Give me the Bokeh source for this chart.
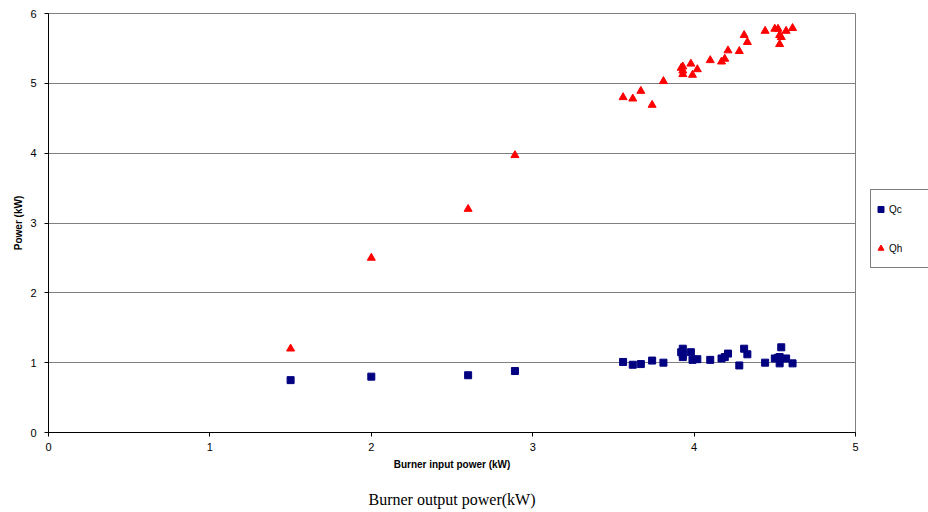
from bokeh.plotting import figure
from bokeh.layouts import row
from bokeh.models import Range1d, Legend, LegendItem, LinearAxis, FixedTicker, ColumnDataSource
from bokeh.embed import file_html
from bokeh.resources import INLINE

# Burner input power (kW)
burner_input = [1.50, 2.00, 2.60, 2.89,
                 3.56, 3.62, 3.67, 3.74, 3.81,
                 3.92, 3.93, 3.93, 3.93, 3.98, 4.02, 3.99,
                 4.10, 4.17, 4.19, 4.21, 4.28, 4.31, 4.33,
                 4.44, 4.50, 4.52, 4.53, 4.54, 4.53, 4.57, 4.61]
# Qh (kW)
qh = [1.20, 2.50, 3.20, 3.97,
      4.80, 4.78, 4.89, 4.69, 5.03,
      5.22, 5.24, 5.18, 5.13, 5.28, 5.20, 5.12,
      5.33, 5.31, 5.35, 5.47, 5.46, 5.69, 5.59,
      5.75, 5.78, 5.78, 5.69, 5.66, 5.56, 5.75, 5.79]
# Qc (kW)
qc = [0.75, 0.80, 0.82, 0.88,
      1.01, 0.97, 0.98, 1.03, 1.00,
      1.15, 1.20, 1.08, 1.12, 1.15, 1.05, 1.04,
      1.04, 1.06, 1.08, 1.13, 0.96, 1.20, 1.12,
      1.00, 1.06, 1.07, 0.99, 1.22, 1.08, 1.06, 0.99]

x_ticks = [0, 1, 2, 3, 4, 5]
y_ticks = [0, 1, 2, 3, 4, 5, 6]

src = ColumnDataSource(dict(x=burner_input, qc=qc, qh=qh))

FONT = "Liberation Sans"
QC_COLOR = "#000080"
QH_COLOR = "#FF0000"

p = figure(width=870, height=512, x_range=Range1d(0, 5), y_range=Range1d(0, 6),
           output_backend="svg", toolbar_location=None,
           min_border_left=48, min_border_right=15, min_border_top=13, min_border_bottom=80)

p.background_fill_color = "white"
p.border_fill_color = "white"
p.outline_line_color = "#808080"
p.outline_line_width = 1

p.xgrid.visible = False
p.ygrid.grid_line_color = "#808080"
p.ygrid.grid_line_width = 1
p.ygrid.ticker = FixedTicker(ticks=y_ticks)

for ax in (p.xaxis[0], p.yaxis[0]):
    ax.axis_line_color = "black"
    ax.axis_line_width = 1
    ax.major_tick_line_color = "black"
    ax.major_tick_out = 4
    ax.major_tick_in = 0
    ax.minor_tick_line_color = None
    ax.major_label_text_font = FONT
    ax.major_label_text_font_size = "11px"
    ax.major_label_text_color = "black"
    ax.axis_label_text_font = FONT
    ax.axis_label_text_font_size = "10px"
    ax.axis_label_text_font_style = "bold"
    ax.axis_label_text_color = "black"

p.xaxis.ticker = FixedTicker(ticks=x_ticks)
p.yaxis.ticker = FixedTicker(ticks=y_ticks)
p.xaxis.major_label_standoff = 6
p.yaxis.major_label_standoff = 8
p.xaxis.axis_label = "Burner input power (kW)"
p.yaxis.axis_label = "Power (kW)"
p.xaxis.axis_label_standoff = 5
p.yaxis.axis_label_standoff = 3

# label-only axis for the caption under the chart
cap = LinearAxis(ticker=FixedTicker(ticks=[]), axis_line_color=None,
                 major_tick_line_color=None, minor_tick_line_color=None,
                 major_label_text_font_size="0px",
                 axis_label="Burner output power(kW)", axis_label_standoff=18,
                 axis_label_text_font="Liberation Serif", axis_label_text_font_size="16px",
                 axis_label_text_font_style="normal", axis_label_text_color="black")
p.add_layout(cap, "below")

p.scatter("x", "qc", source=src, marker="square", size=7,
          fill_color=QC_COLOR, line_color=QC_COLOR)
p.scatter("x", "qh", source=src, marker="triangle", size=8,
          fill_color=QH_COLOR, line_color=QH_COLOR)

# narrow side panel that holds the legend (outside the main plot frame)
lp = figure(width=58, height=512, x_range=Range1d(100, 101), y_range=Range1d(0, 6),
            output_backend="svg", toolbar_location=None,
            x_axis_location=None, y_axis_location=None,
            min_border_left=0, min_border_right=0, min_border_top=0, min_border_bottom=0)
lp.outline_line_color = None
lp.xgrid.visible = False
lp.ygrid.visible = False
lp.background_fill_color = "white"
lp.border_fill_color = "white"

l_qc = lp.scatter("x", "qc", source=src, marker="square", size=7,
                  fill_color=QC_COLOR, line_color=QC_COLOR)
l_qh = lp.scatter("x", "qh", source=src, marker="triangle", size=8,
                  fill_color=QH_COLOR, line_color=QH_COLOR)

legend = Legend(items=[LegendItem(label="Qc", renderers=[l_qc]),
                       LegendItem(label="Qh", renderers=[l_qh])],
                location=(0, 164), orientation="vertical",
                padding=2, spacing=5, margin=0,
                glyph_width=15, glyph_height=34, label_height=34,
                label_width=40, label_standoff=1,
                label_text_font=FONT, label_text_font_size="10px",
                label_text_color="black",
                border_line_color="black", border_line_width=1,
                background_fill_color="white", background_fill_alpha=1)
lp.add_layout(legend, "center")

layout = row(p, lp)
open("out.html", "w").write(file_html(layout, INLINE))
